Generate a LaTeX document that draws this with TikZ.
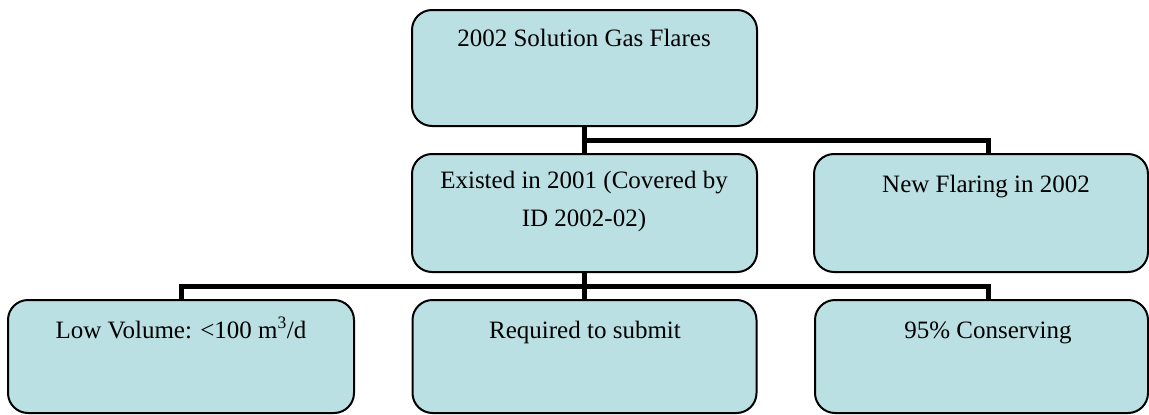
\documentclass[tikz,border=0pt]{standalone}
\usepackage{fontspec}
\setmainfont{Liberation Serif}
\definecolor{boxfill}{RGB}{186,224,227}
\begin{document}
\begin{tikzpicture}[x=1pt,y=-1pt,
  box/.style={draw=black,line width=2pt,fill=boxfill,rounded corners=20pt,inner sep=0pt,outer sep=0pt},
  txt/.style={inner sep=0pt,anchor=base,align=center,font=\fontsize{25}{38}\selectfont},
  conn/.style={line width=5pt}]
\useasboundingbox (0,0) rectangle (1149,415);
% boxes
\node[box,minimum width=345pt,minimum height=116pt] (top) at (584.5,68) {};
\node[box,minimum width=345pt,minimum height=118pt] (mid) at (584.5,213) {};
\node[box,minimum width=334pt,minimum height=118pt] (right) at (981,213) {};
\node[box,minimum width=346pt,minimum height=113pt] (bl) at (181,356.5) {};
\node[box,minimum width=344pt,minimum height=113pt] (bm) at (584.5,356.5) {};
\node[box,minimum width=333pt,minimum height=113pt] (br) at (981.5,356.5) {};
% junctions
\coordinate (j1) at (top.south |- 0,140);
\coordinate (j2) at (mid.south |- 0,286);
% connectors
\draw[conn] (top.south) -- (j1) -- (mid.north);
\draw[conn] (j1) -| ([xshift=7pt]right.north);
\draw[conn] (mid.south) -- (j2) -- (bm.north);
\draw[conn] (j2) -| (bl.north);
\draw[conn] (j2) -| ([xshift=6.5pt]br.north);
% texts
\node[txt] (t1) at (584,46) {2002 Solution Gas Flares};
\node[txt] (t2) at (584,226) {Existed in 2001 (Covered by\\ID 2002-02)};
\node[txt] (t3) at (986,192) {New Flaring in 2002};
\node[txt] (t4) at (181,338) {Low Volume: <100 m\textsuperscript{3}/d};
\node[txt] (t5) at (585,338) {Required to submit};
\node[txt] (t6) at (988,338) {95\% Conserving};
\end{tikzpicture}
\end{document}
